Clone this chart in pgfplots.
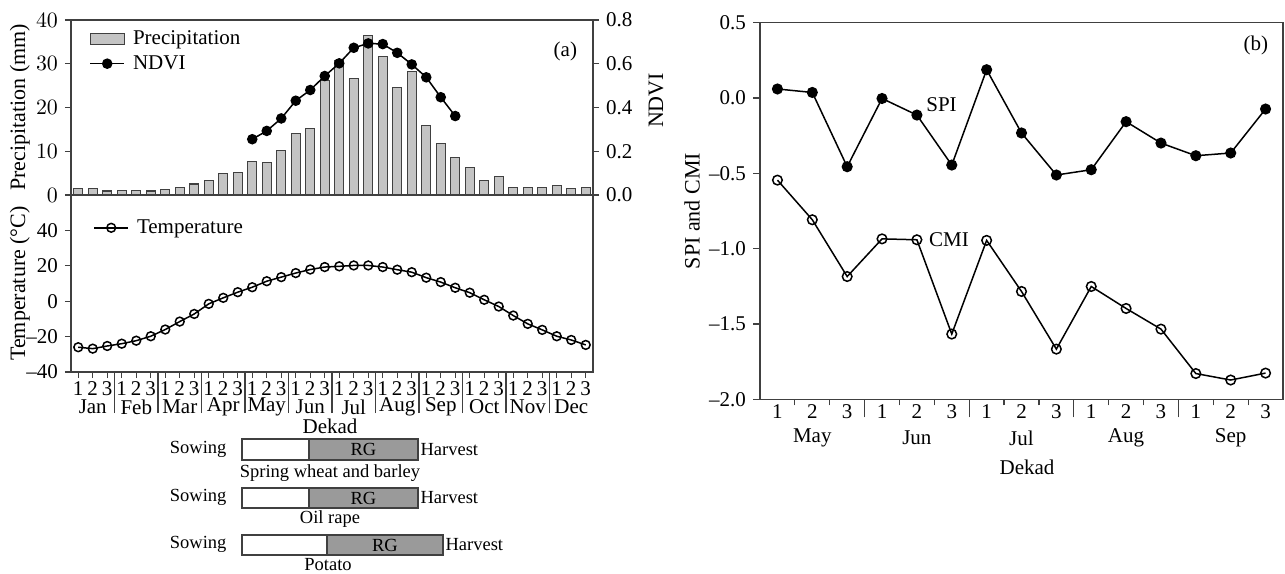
\documentclass[border=0pt]{standalone}
\usepackage{fontspec}
\setmainfont{Liberation Serif}
\usepackage{pgfplots}
\usepackage{pgfplotstable}
\pgfplotsset{compat=1.18}

\definecolor{axgray}{HTML}{404040}
\definecolor{barfill}{HTML}{C4C4C4}
\definecolor{rgfill}{HTML}{9A9A9A}

% dekad, precipitation (mm), temperature (C)
\pgfplotstableread{
d    p     t
0.5  1.4  -26.0
1.5  1.4  -26.8
2.5  0.9  -25.3
3.5  1.1  -24.0
4.5  1.1  -22.3
5.5  0.9  -19.8
6.5  1.3  -16.0
7.5  1.8  -11.5
8.5  2.5   -7.2
9.5  3.3   -1.5
10.5 5.0    1.9
11.5 5.2    5.1
12.5 7.6    7.9
13.5 7.5   11.3
14.5 10.1  13.6
15.5 14.1  15.9
16.5 15.2  17.9
17.5 26.1  19.3
18.5 30.8  19.7
19.5 26.7  20.2
20.5 36.4  20.2
21.5 31.6  19.3
22.5 24.5  17.8
23.5 28.3  16.4
24.5 15.8  13.3
25.5 11.7  10.8
26.5 8.6    7.6
27.5 6.2    4.8
28.5 3.3    0.8
29.5 4.2   -3.0
30.5 1.7   -8.1
31.5 1.7  -12.8
32.5 1.7  -16.2
33.5 2.1  -19.8
34.5 1.5  -21.9
35.5 1.7  -24.7
}\climate

\pgfplotstableread{
d    ndvi
12.5 0.255
13.5 0.293
14.5 0.350
15.5 0.431
16.5 0.480
17.5 0.544
18.5 0.602
19.5 0.673
20.5 0.693
21.5 0.690
22.5 0.650
23.5 0.597
24.5 0.538
25.5 0.447
26.5 0.361
}\ndvitable

\pgfplotstableread{
d    spi     cmi
0.5  0.060  -0.545
1.5  0.037  -0.808
2.5 -0.456  -1.185
3.5 -0.003  -0.935
4.5 -0.113  -0.941
5.5 -0.445  -1.567
6.5  0.188  -0.945
7.5 -0.232  -1.284
8.5 -0.511  -1.667
9.5 -0.476  -1.251
10.5 -0.157 -1.397
11.5 -0.299 -1.534
12.5 -0.383 -1.829
13.5 -0.365 -1.872
14.5 -0.073 -1.826
}\drought

\pgfplotsset{
  base/.style={
    scale only axis,
    clip=false,
    font=\fontsize{10.5}{12}\selectfont,
    axis line style={axgray, line width=0.7pt},
    every tick/.style={axgray, line width=0.6pt},
    tick align=outside,
    major tick length=3pt,
    ylabel style={font=\fontsize{11}{13}\selectfont, anchor=center},
    legend style={draw=none, fill=none, font=\fontsize{10.5}{12}\selectfont, column sep=2pt},
    legend cell align=left,
  },
}

\begin{document}
\begin{tikzpicture}
\useasboundingbox (0,0) rectangle (642.5pt,-286.5pt);

% ---------- (a) upper: precipitation ----------
\begin{axis}[base,
  at={(35.5pt,-97.5pt)}, anchor=south west,
  width=261pt, height=87.5pt,
  xmin=0, xmax=36, ymin=0, ymax=40,
  xtick=\empty, ytick={0,10,20,30,40}, ytick pos=left,
  ylabel={Precipitation (mm)},
  ylabel style={at={(axis description cs:-0.098,0.5)}},
]
\addplot[ybar, bar width=0.62, fill=barfill, draw=axgray, line width=0.6pt]
  table[x=d, y=p] {\climate};
\end{axis}

% ---------- (a) upper: NDVI ----------
\begin{axis}[base,
  at={(35.5pt,-97.5pt)}, anchor=south west,
  width=261pt, height=87.5pt,
  xmin=0, xmax=36, ymin=0, ymax=0.8,
  axis x line=none, axis y line*=right,
  ytick={0,0.2,0.4,0.6,0.8}, yticklabels={0.0,0.2,0.4,0.6,0.8},
  ylabel={NDVI},
  ylabel style={at={(axis description cs:1.121,0.54)}},
  legend style={at={(rel axis cs:0,1)}, anchor=north west, xshift=6pt, yshift=-1pt},
]
\addlegendimage{area legend, fill=barfill, draw=axgray, line width=0.6pt}
\addlegendentry{Precipitation}
\addplot[black, line width=0.75pt, mark=*, mark size=2.25pt]
  table[x=d, y=ndvi] {\ndvitable};
\addlegendentry{NDVI}
\node[anchor=center] at (rel axis cs:0.947,0.82) {(a)};
\end{axis}

% ---------- (a) lower: temperature ----------
\begin{axis}[base,
  at={(35.5pt,-186pt)}, anchor=south west,
  width=261pt, height=88.5pt,
  xmin=0, xmax=36, ymin=-40, ymax=60,
  ytick={-40,-20,0,20,40}, yticklabels={–40,–20,0,20,40}, ytick pos=left,
  xtick={0.5,1.5,...,35.5}, xtick pos=bottom,
  xticklabels={1,2,3,1,2,3,1,2,3,1,2,3,1,2,3,1,2,3,1,2,3,1,2,3,1,2,3,1,2,3,1,2,3,1,2,3},
  xticklabel style={inner sep=1.5pt},
  extra x ticks={3,6,...,33},
  extra x tick labels={},
  extra x tick style={major tick length=20.5pt},
  ylabel={Temperature (°C)},
  ylabel style={at={(axis description cs:-0.098,0.5)}},
  legend style={at={(rel axis cs:0,1)}, anchor=north west, xshift=8pt, yshift=-8pt},
]
\addplot[black, line width=0.75pt, mark=o, mark size=2.2pt, mark options={fill=white}]
  table[x=d, y=t] {\climate};
\addlegendentry{Temperature}
\end{axis}

\foreach \m [count=\k from 0] in {Jan,Feb,Mar,Apr,May,Jun,Jul,Aug,Sep,Oct,Nov,Dec}
  \node[font=\fontsize{10.5}{12}\selectfont] at ({35.5pt+(3*\k+1.5)*7.25pt},-203.5pt) {\m};
\node[font=\fontsize{10.5}{12}\selectfont] at (165pt,-213pt) {Dekad};

% ---------- crop calendars ----------
\begin{scope}[font=\fontsize{9.25}{11}\selectfont, draw=axgray, line width=0.6pt]
  \draw[fill=white] (121pt,-219.5pt) rectangle (154.5pt,-230pt);
  \draw[fill=rgfill] (154.5pt,-219.5pt) rectangle (209pt,-230pt);
  \node at (181.75pt,-224.75pt) {RG};
  \node[anchor=east, inner sep=0pt] at (113.5pt,-224.5pt) {Sowing};
  \node[anchor=west, inner sep=1pt] at (209pt,-224.75pt) {Harvest};
  \node at (165pt,-236.5pt) {Spring wheat and barley};

  \draw[fill=white] (121pt,-244pt) rectangle (154.5pt,-254pt);
  \draw[fill=rgfill] (154.5pt,-244pt) rectangle (209pt,-254pt);
  \node at (181.75pt,-249pt) {RG};
  \node[anchor=east, inner sep=0pt] at (113.5pt,-248.5pt) {Sowing};
  \node[anchor=west, inner sep=1pt] at (209pt,-249pt) {Harvest};
  \node at (165pt,-259.5pt) {Oil rape};

  \draw[fill=white] (121pt,-267.5pt) rectangle (163.5pt,-277.5pt);
  \draw[fill=rgfill] (163.5pt,-267.5pt) rectangle (221.5pt,-277.5pt);
  \node at (192.5pt,-272.5pt) {RG};
  \node[anchor=east, inner sep=0pt] at (113.5pt,-272pt) {Sowing};
  \node[anchor=west, inner sep=1pt] at (221.5pt,-272.5pt) {Harvest};
  \node[inner sep=1pt] at (164pt,-282.3pt) {Potato};
\end{scope}

% ---------- (b) SPI and CMI ----------
\begin{axis}[base,
  at={(380pt,-199.65pt)}, anchor=south west,
  width=261.5pt, height=188.3pt,
  xmin=0, xmax=15, ymin=-2, ymax=0.5,
  ytick={-2,-1.5,-1,-0.5,0,0.5},
  yticklabels={–2.0,–1.5,–1.0,–0.5,0.0,0.5},
  ytick pos=left, xtick pos=bottom,
  major tick length=3.5pt,
  xtick={0.5,1.5,...,14.5},
  xticklabels={1,2,3,1,2,3,1,2,3,1,2,3,1,2,3},
  xticklabel style={yshift=4.5pt},
  x tick style={draw=none},
  minor xtick={1,2,4,5,7,8,10,11,13,14},
  minor x tick style={draw=axgray, line width=0.6pt},
  minor tick length=3pt,
  extra x ticks={3,6,9,12},
  extra x tick labels={},
  extra x tick style={major tick length=9pt, x tick style={draw=axgray, line width=0.6pt}},
  ylabel={SPI and CMI},
  ylabel style={at={(axis description cs:-0.130,0.5)}},
]
\addplot[black, line width=0.75pt, mark=*, mark size=2.4pt]
  table[x=d, y=spi] {\drought};
\addplot[black, line width=0.75pt, mark=o, mark size=2.4pt, mark options={fill=white}]
  table[x=d, y=cmi] {\drought};
\node[anchor=west, inner sep=0pt] at (axis cs:4.76,-0.044) {SPI};
\node[anchor=west, inner sep=0pt] at (axis cs:4.84,-0.94) {CMI};
\node at (rel axis cs:0.948,0.94) {(b)};
\end{axis}

\foreach \m [count=\k from 0] in {May,Jun,Jul,Aug,Sep}
  \node[font=\fontsize{10.5}{12}\selectfont] at ({380pt+(3*\k+1.5)*17.43pt},-219pt) {\m};
\node[font=\fontsize{10.5}{12}\selectfont] at (513.5pt,-233.5pt) {Dekad};

\end{tikzpicture}
\end{document}
